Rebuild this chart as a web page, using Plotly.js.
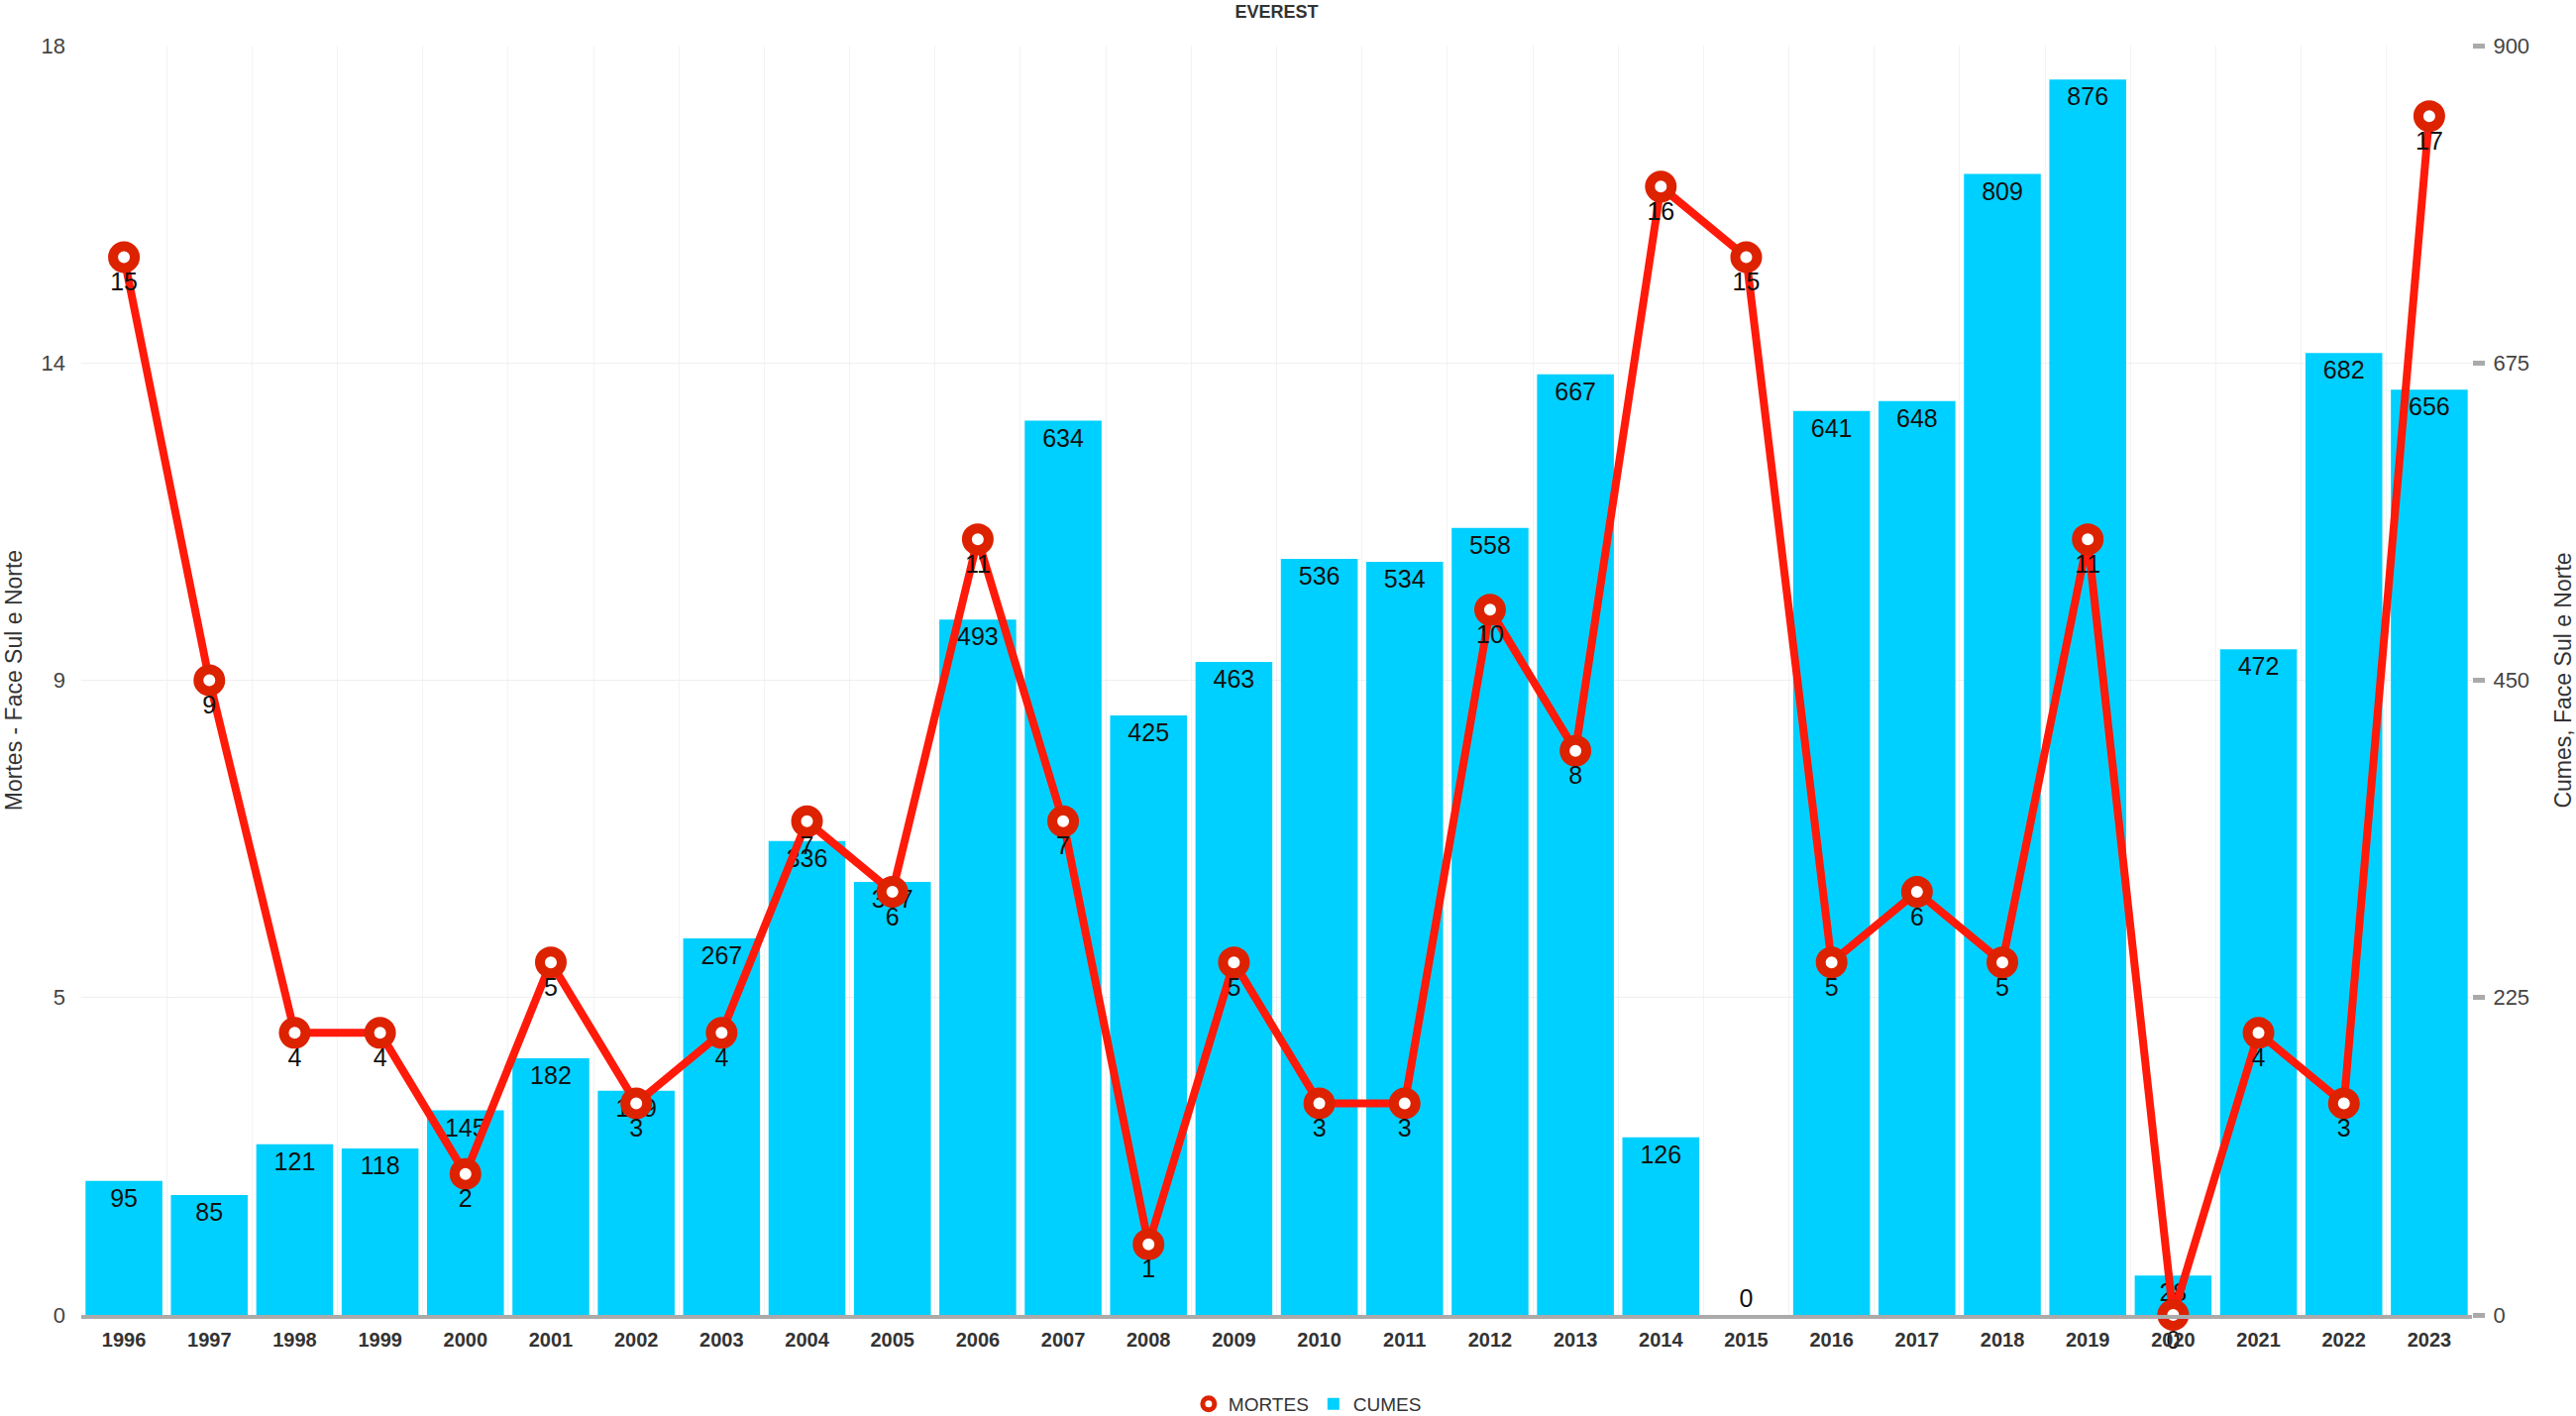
<!DOCTYPE html>
<html>
<head>
<meta charset="utf-8">
<script src="https://cdn.plot.ly/plotly-3.0.1.min.js"></script>
<style>
  html, body { margin: 0; padding: 0; background: #fff; }
  #myDiv { width: 2600px; height: 1429px; }
</style>
</head>
<body>
<div id="myDiv"></div>
<script>
// years on the category axis
var years = ['1996', '1997', '1998', '1999', '2000', '2001', '2002', '2003', '2004', '2005',
    '2006', '2007', '2008', '2009', '2010', '2011', '2012', '2013', '2014', '2015',
    '2016', '2017', '2018', '2019', '2020', '2021', '2022', '2023'];

// deaths per year (left axis)
var mortes = [15, 9, 4, 4, 2, 5, 3, 4, 7, 6, 11, 7, 1, 5, 3, 3, 10, 8, 16, 15,
    5, 6, 5, 11, 0, 4, 3, 17];

// summits per year (right axis)
var cumes = [95, 85, 121, 118, 145, 182, 159, 267, 336, 307, 493, 634, 425, 463, 536, 534,
    558, 667, 126, 0, 641, 648, 809, 876, 28, 472, 682, 656];

// tick labels
var mortesTickVals = [0, 4.5, 9, 13.5, 18];
var mortesTickText = ['0', '5', '9', '14', '18'];
var cumesTickVals = [0, 225, 450, 675, 900];

var fontFamily = '"Liberation Sans", Arial, Helvetica, sans-serif';

var lineColor = '#ff1a0a';
var markerEdge = '#dd2200';

// legend entry only: open circle without the line
var legendMortes = {
    x: [years[0]],
    y: [null],
    name: 'MORTES',
    type: 'scatter',
    mode: 'markers',
    yaxis: 'y2',
    marker: {
        color: '#ffffff',
        size: 12,
        symbol: 'circle',
        line: { color: markerEdge, width: 5 }
    },
    hoverinfo: 'skip'
};

var traceMortes = {
    x: years,
    y: mortes,
    name: 'MORTES',
    type: 'scatter',
    mode: 'lines+markers+text',
    yaxis: 'y2',
    showlegend: false,
    text: mortes.map(String),
    textposition: 'bottom center',
    textfont: { family: fontFamily, size: 25, color: '#111' },
    line: { color: lineColor, width: 8 },
    marker: {
        color: '#ffffff',
        size: 22,
        symbol: 'circle',
        line: { color: markerEdge, width: 10 }
    },
    cliponaxis: false,
    hoverinfo: 'x+y'
};

var traceCumes = {
    x: years,
    y: cumes,
    name: 'CUMES',
    type: 'bar',
    yaxis: 'y',
    text: cumes.map(String),
    textposition: cumes.map(function (v) { return v === 0 ? 'outside' : 'inside'; }),
    insidetextanchor: 'end',
    constraintext: 'none',
    textfont: { family: fontFamily, size: 25, color: '#111' },
    insidetextfont: { family: fontFamily, size: 25, color: '#111' },
    outsidetextfont: { family: fontFamily, size: 25, color: '#111' },
    marker: { color: '#00d0ff' },
    cliponaxis: false,
    hoverinfo: 'x+y'
};

var layout = {
    width: 2600,
    height: 1429,
    paper_bgcolor: '#ffffff',
    plot_bgcolor: '#ffffff',
    font: { family: fontFamily, color: '#333' },
    margin: { l: 82, r: 105, t: 46, b: 102 },
    bargap: 0.1,
    showlegend: true,
    title: {
        text: 'EVEREST',
        xref: 'paper',
        x: 0.5,
        xanchor: 'center',
        y: 0.9915,
        yanchor: 'middle',
        font: { family: fontFamily, size: 18, color: '#333', weight: 'bold' }
    },
    legend: {
        orientation: 'h',
        x: 0.513,
        xanchor: 'center',
        yref: 'container',
        y: 0.0084,
        yanchor: 'middle',
        font: { family: fontFamily, size: 19, color: '#333' },
        itemwidth: 30,
        tracegroupgap: 0
    },
    xaxis: {
        type: 'category',
        range: [-0.5, years.length - 0.5],
        tickson: 'boundaries',
        showgrid: true,
        gridcolor: '#f3f3f3',
        gridwidth: 1,
        showline: true,
        linecolor: '#aaaaaa',
        linewidth: 4,
        ticks: '',
        ticklabelstandoff: 4,
        tickfont: { family: fontFamily, size: 20, color: '#333', weight: 'bold' },
        zeroline: false,
        automargin: false
    },
    yaxis: {
        range: [0, 900],
        side: 'right',
        tickvals: cumesTickVals,
        ticktext: cumesTickVals.map(String),
        ticks: 'outside',
        ticklen: 12,
        tickwidth: 5,
        tickcolor: '#aaaaaa',
        ticklabelstandoff: 4,
        showgrid: true,
        gridcolor: '#efefef',
        gridwidth: 1,
        zeroline: false,
        showline: false,
        tickfont: { family: fontFamily, size: 22, color: '#444' },
        title: {
            text: 'Cumes, Face Sul e Norte',
            font: { family: fontFamily, size: 23, color: '#333' },
            standoff: 28
        },
        automargin: false
    },
    yaxis2: {
        range: [0, 18],
        overlaying: 'y',
        side: 'left',
        tickvals: mortesTickVals,
        ticktext: mortesTickText,
        ticks: '',
        ticklabelstandoff: 15,
        showgrid: false,
        zeroline: false,
        showline: false,
        tickfont: { family: fontFamily, size: 22, color: '#444' },
        title: {
            text: 'Mortes - Face Sul e Norte',
            font: { family: fontFamily, size: 23, color: '#333' },
            standoff: 12
        },
        automargin: false
    }
};

var config = {
    displayModeBar: false,
    responsive: false
};

Plotly.newPlot('myDiv', [legendMortes, traceMortes, traceCumes], layout, config);
</script>
</body>
</html>
